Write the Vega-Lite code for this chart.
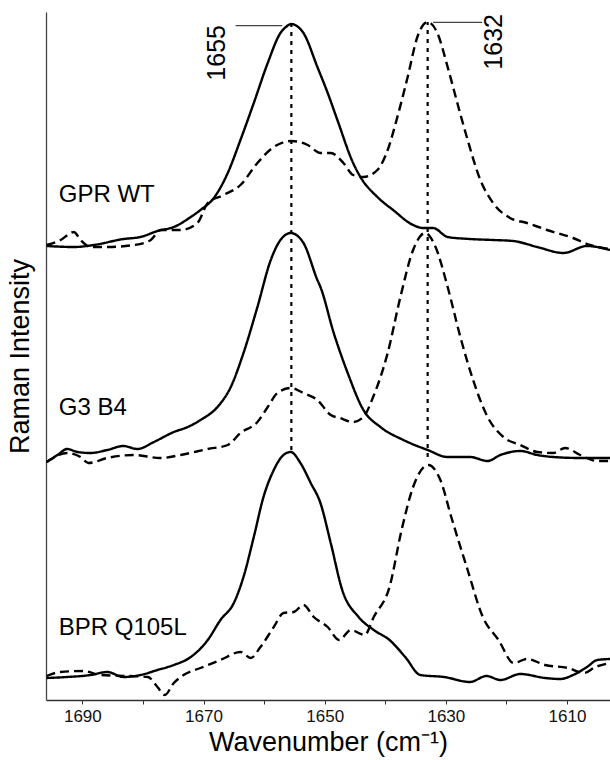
{
"$schema": "https://vega.github.io/schema/vega-lite/v6.json",
"width": 564, "height": 688,
"autosize": "none",
"padding": {"left": 46, "top": 12, "right": 0, "bottom": 60},
"config": {"view": {"stroke": null}, "font": "Liberation Sans"},
"datasets": {
"spectra": [
{"s":"GPR WT","k":"solid","w":1695.9,"v":454},{"s":"GPR WT","k":"solid","w":1691.4,"v":453},{"s":"GPR WT","k":"solid","w":1688.1,"v":455},{"s":"GPR WT","k":"solid","w":1683.2,"v":461},{"s":"GPR WT","k":"solid","w":1680.4,"v":463},{"s":"GPR WT","k":"solid","w":1677.6,"v":469},{"s":"GPR WT","k":"solid","w":1674.9,"v":473},{"s":"GPR WT","k":"solid","w":1672.1,"v":483},{"s":"GPR WT","k":"solid","w":1670.5,"v":490},{"s":"GPR WT","k":"solid","w":1668.3,"v":502},{"s":"GPR WT","k":"solid","w":1666.0,"v":527},{"s":"GPR WT","k":"solid","w":1663.9,"v":560},{"s":"GPR WT","k":"solid","w":1661.7,"v":597},{"s":"GPR WT","k":"solid","w":1659.4,"v":637},{"s":"GPR WT","k":"solid","w":1657.3,"v":667},{"s":"GPR WT","k":"solid","w":1656.4,"v":673},{"s":"GPR WT","k":"solid","w":1655.5,"v":676},{"s":"GPR WT","k":"solid","w":1654.6,"v":674},{"s":"GPR WT","k":"solid","w":1653.5,"v":667},{"s":"GPR WT","k":"solid","w":1651.2,"v":633},{"s":"GPR WT","k":"solid","w":1649.5,"v":607},{"s":"GPR WT","k":"solid","w":1647.9,"v":580},{"s":"GPR WT","k":"solid","w":1645.3,"v":537},{"s":"GPR WT","k":"solid","w":1644.1,"v":523},{"s":"GPR WT","k":"solid","w":1641.3,"v":503},{"s":"GPR WT","k":"solid","w":1638.7,"v":490},{"s":"GPR WT","k":"solid","w":1635.4,"v":475},{"s":"GPR WT","k":"solid","w":1633.7,"v":472},{"s":"GPR WT","k":"solid","w":1632.1,"v":472},{"s":"GPR WT","k":"solid","w":1629.7,"v":463},{"s":"GPR WT","k":"solid","w":1626.0,"v":461},{"s":"GPR WT","k":"solid","w":1622.2,"v":460},{"s":"GPR WT","k":"solid","w":1618.9,"v":459},{"s":"GPR WT","k":"solid","w":1614.9,"v":453},{"s":"GPR WT","k":"solid","w":1610.6,"v":447},{"s":"GPR WT","k":"solid","w":1606.7,"v":454},{"s":"GPR WT","k":"solid","w":1602.9,"v":450},
{"s":"GPR WT","k":"dashed","w":1695.9,"v":455},{"s":"GPR WT","k":"dashed","w":1693.6,"v":460},{"s":"GPR WT","k":"dashed","w":1691.4,"v":468},{"s":"GPR WT","k":"dashed","w":1690.3,"v":460},{"s":"GPR WT","k":"dashed","w":1688.6,"v":453},{"s":"GPR WT","k":"dashed","w":1685.8,"v":453},{"s":"GPR WT","k":"dashed","w":1681.5,"v":455},{"s":"GPR WT","k":"dashed","w":1678.7,"v":460},{"s":"GPR WT","k":"dashed","w":1677.1,"v":470},{"s":"GPR WT","k":"dashed","w":1673.8,"v":470},{"s":"GPR WT","k":"dashed","w":1671.0,"v":477},{"s":"GPR WT","k":"dashed","w":1669.3,"v":497},{"s":"GPR WT","k":"dashed","w":1666.7,"v":505},{"s":"GPR WT","k":"dashed","w":1663.9,"v":515},{"s":"GPR WT","k":"dashed","w":1661.1,"v":537},{"s":"GPR WT","k":"dashed","w":1658.4,"v":553},{"s":"GPR WT","k":"dashed","w":1655.5,"v":559},{"s":"GPR WT","k":"dashed","w":1652.8,"v":555},{"s":"GPR WT","k":"dashed","w":1650.7,"v":547},{"s":"GPR WT","k":"dashed","w":1649.0,"v":547},{"s":"GPR WT","k":"dashed","w":1646.9,"v":537},{"s":"GPR WT","k":"dashed","w":1645.3,"v":525},{"s":"GPR WT","k":"dashed","w":1643.6,"v":523},{"s":"GPR WT","k":"dashed","w":1641.3,"v":530},{"s":"GPR WT","k":"dashed","w":1639.6,"v":550},{"s":"GPR WT","k":"dashed","w":1638.0,"v":583},{"s":"GPR WT","k":"dashed","w":1636.3,"v":623},{"s":"GPR WT","k":"dashed","w":1634.7,"v":663},{"s":"GPR WT","k":"dashed","w":1633.0,"v":678},{"s":"GPR WT","k":"dashed","w":1631.4,"v":667},{"s":"GPR WT","k":"dashed","w":1629.7,"v":633},{"s":"GPR WT","k":"dashed","w":1628.1,"v":597},{"s":"GPR WT","k":"dashed","w":1626.4,"v":560},{"s":"GPR WT","k":"dashed","w":1624.3,"v":520},{"s":"GPR WT","k":"dashed","w":1622.2,"v":497},{"s":"GPR WT","k":"dashed","w":1619.4,"v":482},{"s":"GPR WT","k":"dashed","w":1616.6,"v":477},{"s":"GPR WT","k":"dashed","w":1613.3,"v":470},{"s":"GPR WT","k":"dashed","w":1609.0,"v":462},{"s":"GPR WT","k":"dashed","w":1606.2,"v":455},{"s":"GPR WT","k":"dashed","w":1602.9,"v":451},
{"s":"G3 B4","k":"solid","w":1695.9,"v":238},{"s":"G3 B4","k":"solid","w":1694.1,"v":245},{"s":"G3 B4","k":"solid","w":1692.5,"v":251},{"s":"G3 B4","k":"solid","w":1690.8,"v":248},{"s":"G3 B4","k":"solid","w":1688.6,"v":247},{"s":"G3 B4","k":"solid","w":1685.9,"v":250},{"s":"G3 B4","k":"solid","w":1683.2,"v":254},{"s":"G3 B4","k":"solid","w":1680.9,"v":251},{"s":"G3 B4","k":"solid","w":1678.2,"v":258},{"s":"G3 B4","k":"solid","w":1674.9,"v":268},{"s":"G3 B4","k":"solid","w":1672.6,"v":273},{"s":"G3 B4","k":"solid","w":1670.5,"v":280},{"s":"G3 B4","k":"solid","w":1667.7,"v":293},{"s":"G3 B4","k":"solid","w":1665.5,"v":313},{"s":"G3 B4","k":"solid","w":1663.4,"v":347},{"s":"G3 B4","k":"solid","w":1661.1,"v":393},{"s":"G3 B4","k":"solid","w":1658.9,"v":440},{"s":"G3 B4","k":"solid","w":1657.3,"v":460},{"s":"G3 B4","k":"solid","w":1655.6,"v":467},{"s":"G3 B4","k":"solid","w":1653.5,"v":457},{"s":"G3 B4","k":"solid","w":1651.2,"v":420},{"s":"G3 B4","k":"solid","w":1650.7,"v":413},{"s":"G3 B4","k":"solid","w":1648.5,"v":367},{"s":"G3 B4","k":"solid","w":1646.2,"v":327},{"s":"G3 B4","k":"solid","w":1643.6,"v":290},{"s":"G3 B4","k":"solid","w":1640.8,"v":273},{"s":"G3 B4","k":"solid","w":1637.0,"v":260},{"s":"G3 B4","k":"solid","w":1633.0,"v":250},{"s":"G3 B4","k":"solid","w":1629.7,"v":243},{"s":"G3 B4","k":"solid","w":1626.0,"v":243},{"s":"G3 B4","k":"solid","w":1623.1,"v":239},{"s":"G3 B4","k":"solid","w":1621.0,"v":245},{"s":"G3 B4","k":"solid","w":1617.7,"v":249},{"s":"G3 B4","k":"solid","w":1614.9,"v":245},{"s":"G3 B4","k":"solid","w":1612.3,"v":243},{"s":"G3 B4","k":"solid","w":1607.8,"v":242},{"s":"G3 B4","k":"solid","w":1602.9,"v":242},
{"s":"G3 B4","k":"dashed","w":1695.9,"v":238},{"s":"G3 B4","k":"dashed","w":1692.5,"v":247},{"s":"G3 B4","k":"dashed","w":1690.3,"v":243},{"s":"G3 B4","k":"dashed","w":1689.0,"v":237},{"s":"G3 B4","k":"dashed","w":1685.9,"v":242},{"s":"G3 B4","k":"dashed","w":1681.5,"v":245},{"s":"G3 B4","k":"dashed","w":1677.1,"v":242},{"s":"G3 B4","k":"dashed","w":1673.8,"v":245},{"s":"G3 B4","k":"dashed","w":1669.3,"v":251},{"s":"G3 B4","k":"dashed","w":1666.0,"v":255},{"s":"G3 B4","k":"dashed","w":1663.9,"v":267},{"s":"G3 B4","k":"dashed","w":1661.1,"v":278},{"s":"G3 B4","k":"dashed","w":1659.4,"v":293},{"s":"G3 B4","k":"dashed","w":1657.8,"v":307},{"s":"G3 B4","k":"dashed","w":1655.6,"v":312},{"s":"G3 B4","k":"dashed","w":1653.5,"v":307},{"s":"G3 B4","k":"dashed","w":1651.2,"v":300},{"s":"G3 B4","k":"dashed","w":1649.0,"v":285},{"s":"G3 B4","k":"dashed","w":1647.5,"v":282},{"s":"G3 B4","k":"dashed","w":1645.3,"v":278},{"s":"G3 B4","k":"dashed","w":1643.6,"v":283},{"s":"G3 B4","k":"dashed","w":1642.0,"v":303},{"s":"G3 B4","k":"dashed","w":1639.6,"v":347},{"s":"G3 B4","k":"dashed","w":1637.5,"v":403},{"s":"G3 B4","k":"dashed","w":1635.4,"v":450},{"s":"G3 B4","k":"dashed","w":1633.4,"v":467},{"s":"G3 B4","k":"dashed","w":1631.7,"v":453},{"s":"G3 B4","k":"dashed","w":1629.7,"v":413},{"s":"G3 B4","k":"dashed","w":1627.6,"v":363},{"s":"G3 B4","k":"dashed","w":1625.5,"v":320},{"s":"G3 B4","k":"dashed","w":1623.1,"v":283},{"s":"G3 B4","k":"dashed","w":1620.5,"v":263},{"s":"G3 B4","k":"dashed","w":1617.7,"v":255},{"s":"G3 B4","k":"dashed","w":1614.9,"v":248},{"s":"G3 B4","k":"dashed","w":1612.3,"v":247},{"s":"G3 B4","k":"dashed","w":1610.3,"v":252},{"s":"G3 B4","k":"dashed","w":1607.8,"v":245},{"s":"G3 B4","k":"dashed","w":1605.0,"v":239},{"s":"G3 B4","k":"dashed","w":1602.9,"v":239},
{"s":"BPR Q105L","k":"solid","w":1695.9,"v":22},{"s":"BPR Q105L","k":"solid","w":1692.5,"v":23},{"s":"BPR Q105L","k":"solid","w":1688.6,"v":25},{"s":"BPR Q105L","k":"solid","w":1685.9,"v":28},{"s":"BPR Q105L","k":"solid","w":1683.2,"v":23},{"s":"BPR Q105L","k":"solid","w":1680.4,"v":25},{"s":"BPR Q105L","k":"solid","w":1677.6,"v":30},{"s":"BPR Q105L","k":"solid","w":1674.9,"v":35},{"s":"BPR Q105L","k":"solid","w":1672.1,"v":43},{"s":"BPR Q105L","k":"solid","w":1669.3,"v":60},{"s":"BPR Q105L","k":"solid","w":1667.2,"v":80},{"s":"BPR Q105L","k":"solid","w":1665.0,"v":97},{"s":"BPR Q105L","k":"solid","w":1663.4,"v":123},{"s":"BPR Q105L","k":"solid","w":1661.7,"v":163},{"s":"BPR Q105L","k":"solid","w":1660.1,"v":203},{"s":"BPR Q105L","k":"solid","w":1658.4,"v":230},{"s":"BPR Q105L","k":"solid","w":1656.8,"v":245},{"s":"BPR Q105L","k":"solid","w":1655.6,"v":248},{"s":"BPR Q105L","k":"solid","w":1654.0,"v":237},{"s":"BPR Q105L","k":"solid","w":1652.3,"v":217},{"s":"BPR Q105L","k":"solid","w":1650.7,"v":197},{"s":"BPR Q105L","k":"solid","w":1649.0,"v":157},{"s":"BPR Q105L","k":"solid","w":1647.1,"v":110},{"s":"BPR Q105L","k":"solid","w":1644.4,"v":83},{"s":"BPR Q105L","k":"solid","w":1641.9,"v":70},{"s":"BPR Q105L","k":"solid","w":1639.3,"v":60},{"s":"BPR Q105L","k":"solid","w":1636.7,"v":43},{"s":"BPR Q105L","k":"solid","w":1634.2,"v":25},{"s":"BPR Q105L","k":"solid","w":1630.3,"v":23},{"s":"BPR Q105L","k":"solid","w":1626.0,"v":18},{"s":"BPR Q105L","k":"solid","w":1623.3,"v":24},{"s":"BPR Q105L","k":"solid","w":1621.0,"v":20},{"s":"BPR Q105L","k":"solid","w":1617.7,"v":26},{"s":"BPR Q105L","k":"solid","w":1613.6,"v":22},{"s":"BPR Q105L","k":"solid","w":1611.1,"v":21},{"s":"BPR Q105L","k":"solid","w":1609.0,"v":25},{"s":"BPR Q105L","k":"solid","w":1606.7,"v":33},{"s":"BPR Q105L","k":"solid","w":1605.0,"v":40},{"s":"BPR Q105L","k":"solid","w":1602.9,"v":41},
{"s":"BPR Q105L","k":"dashed","w":1695.9,"v":24},{"s":"BPR Q105L","k":"dashed","w":1693.6,"v":28},{"s":"BPR Q105L","k":"dashed","w":1689.8,"v":29},{"s":"BPR Q105L","k":"dashed","w":1687.0,"v":25},{"s":"BPR Q105L","k":"dashed","w":1682.5,"v":24},{"s":"BPR Q105L","k":"dashed","w":1679.2,"v":23},{"s":"BPR Q105L","k":"dashed","w":1677.6,"v":13},{"s":"BPR Q105L","k":"dashed","w":1676.4,"v":5},{"s":"BPR Q105L","k":"dashed","w":1674.9,"v":17},{"s":"BPR Q105L","k":"dashed","w":1673.3,"v":25},{"s":"BPR Q105L","k":"dashed","w":1670.5,"v":32},{"s":"BPR Q105L","k":"dashed","w":1667.2,"v":40},{"s":"BPR Q105L","k":"dashed","w":1663.9,"v":48},{"s":"BPR Q105L","k":"dashed","w":1662.2,"v":42},{"s":"BPR Q105L","k":"dashed","w":1660.6,"v":53},{"s":"BPR Q105L","k":"dashed","w":1658.4,"v":73},{"s":"BPR Q105L","k":"dashed","w":1656.8,"v":87},{"s":"BPR Q105L","k":"dashed","w":1655.1,"v":88},{"s":"BPR Q105L","k":"dashed","w":1653.5,"v":95},{"s":"BPR Q105L","k":"dashed","w":1651.8,"v":83},{"s":"BPR Q105L","k":"dashed","w":1649.5,"v":73},{"s":"BPR Q105L","k":"dashed","w":1647.6,"v":60},{"s":"BPR Q105L","k":"dashed","w":1645.7,"v":70},{"s":"BPR Q105L","k":"dashed","w":1643.4,"v":65},{"s":"BPR Q105L","k":"dashed","w":1641.9,"v":83},{"s":"BPR Q105L","k":"dashed","w":1639.3,"v":113},{"s":"BPR Q105L","k":"dashed","w":1637.3,"v":170},{"s":"BPR Q105L","k":"dashed","w":1635.4,"v":213},{"s":"BPR Q105L","k":"dashed","w":1632.9,"v":235},{"s":"BPR Q105L","k":"dashed","w":1630.9,"v":220},{"s":"BPR Q105L","k":"dashed","w":1629.1,"v":183},{"s":"BPR Q105L","k":"dashed","w":1626.4,"v":130},{"s":"BPR Q105L","k":"dashed","w":1623.9,"v":83},{"s":"BPR Q105L","k":"dashed","w":1621.3,"v":60},{"s":"BPR Q105L","k":"dashed","w":1618.8,"v":37},{"s":"BPR Q105L","k":"dashed","w":1616.6,"v":41},{"s":"BPR Q105L","k":"dashed","w":1613.6,"v":35},{"s":"BPR Q105L","k":"dashed","w":1609.8,"v":32},{"s":"BPR Q105L","k":"dashed","w":1607.2,"v":27},{"s":"BPR Q105L","k":"dashed","w":1605.3,"v":33},{"s":"BPR Q105L","k":"dashed","w":1602.9,"v":37}
],
"markers": [{"w":1655.5,"y1":250,"y2":676},{"w":1633.0,"y1":243,"y2":678}],
"leaders": [{"w1":1664.7,"w2":1657.0,"v":674.3},{"w1":1632.1,"w2":1624.0,"v":677.7}],
"peaks": [{"w":1667.7,"v":675,"label":"1655"},{"w":1622.0,"v":686,"label":"1632"}],
"samples": [{"w":1693.9,"v":498,"label":"GPR WT"},{"w":1693.9,"v":285,"label":"G3 B4"},{"w":1693.9,"v":65,"label":"BPR Q105L"}]
},
"layer": [
{
"data": {"name": "spectra"},
"mark": {"type": "line", "color": "#000", "strokeWidth": 2.4, "clip": true, "interpolate": "monotone"},
"encoding": {
"x": {"field": "w", "type": "quantitative", "title": "Wavenumber (cm⁻¹)",
"scale": {"domain": [1602.9, 1696], "reverse": true, "nice": false, "zero": false},
"axis": {"values": [1690,1680,1670,1660,1650,1640,1630,1620,1610], "format": "d", "labelExpr": "datum.value % 20 == 10 ? datum.label : ''", "labelOverlap": false, "labelFlush": false, "grid": false, "tickSize": 4, "tickColor": "#333", "domainColor": "#333", "domainWidth": 1.3, "labelFontSize": 17, "labelColor": "#111", "labelPadding": 4, "labelFont": "Liberation Sans", "titleFont": "Liberation Sans", "titleFontSize": 27, "titleFontWeight": "normal", "titleColor": "#000", "titlePadding": 5}},
"y": {"field": "v", "type": "quantitative", "title": "Raman Intensity",
"scale": {"domain": [0, 688], "nice": false, "zero": false},
"axis": {"ticks": false, "labels": false, "grid": false, "domainColor": "#444", "domainWidth": 1.3, "titleFont": "Liberation Sans", "titleFontSize": 27, "titleFontWeight": "normal", "titleColor": "#000", "titlePadding": 12}},
"detail": [{"field": "s"}, {"field": "k"}],
"strokeDash": {"field": "k", "type": "nominal", "scale": {"domain": ["solid", "dashed"], "range": [[1, 0], [9, 5]]}, "legend": null}
}
},
{
"data": {"name": "markers"},
"mark": {"type": "rule", "color": "#000", "strokeWidth": 2.2, "strokeDash": [4, 5]},
"encoding": {"x": {"field": "w", "type": "quantitative", "title": "Wavenumber (cm⁻¹)"}, "y": {"field": "y1", "type": "quantitative", "title": "Raman Intensity"}, "y2": {"field": "y2"}}
},
{
"data": {"name": "leaders"},
"mark": {"type": "rule", "color": "#444", "strokeWidth": 1.2},
"encoding": {"x": {"field": "w1", "type": "quantitative", "title": "Wavenumber (cm⁻¹)"}, "x2": {"field": "w2"}, "y": {"field": "v", "type": "quantitative", "title": "Raman Intensity"}}
},
{
"data": {"name": "peaks"},
"mark": {"type": "text", "angle": 270, "align": "right", "baseline": "middle", "fontSize": 25, "font": "Liberation Sans", "color": "#000"},
"encoding": {"x": {"field": "w", "type": "quantitative", "title": "Wavenumber (cm⁻¹)"}, "y": {"field": "v", "type": "quantitative", "title": "Raman Intensity"}, "text": {"field": "label"}}
},
{
"data": {"name": "samples"},
"mark": {"type": "text", "align": "left", "baseline": "alphabetic", "fontSize": 24, "font": "Liberation Sans", "color": "#000"},
"encoding": {"x": {"field": "w", "type": "quantitative", "title": "Wavenumber (cm⁻¹)"}, "y": {"field": "v", "type": "quantitative", "title": "Raman Intensity"}, "text": {"field": "label"}}
}
]
}
